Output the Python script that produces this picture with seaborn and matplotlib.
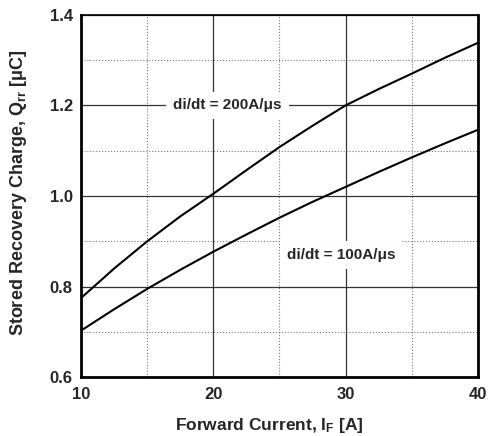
import numpy as np
import pandas as pd
import matplotlib
matplotlib.use("Agg")
import matplotlib.pyplot as plt
import seaborn as sns

# Дані
current = [10, 12.5, 15, 17.5, 20, 22.5, 25, 27.5, 30, 32.5, 35, 37.5, 40]
qrr_200 = [0.775, 0.840, 0.900, 0.955, 1.005, 1.057, 1.108, 1.155, 1.200, 1.236, 1.270, 1.305, 1.338]
qrr_100 = [0.703, 0.750, 0.795, 0.837, 0.877, 0.915, 0.952, 0.987, 1.020, 1.053, 1.085, 1.116, 1.146]
labels = ["di/dt = 200A/μs", "di/dt = 100A/μs"]

df = pd.DataFrame({
    "current": current * 2,
    "qrr": qrr_200 + qrr_100,
    "series": [labels[0]] * len(current) + [labels[1]] * len(current),
})

sns.set_style("white")
plt.rcParams["font.family"] = ["Liberation Sans", "DejaVu Sans"]
plt.rcParams["font.weight"] = "bold"
plt.rcParams["mathtext.fontset"] = "custom"
plt.rcParams["mathtext.rm"] = "Liberation Sans:bold"
plt.rcParams["mathtext.it"] = "Liberation Sans:bold"
plt.rcParams["mathtext.bf"] = "Liberation Sans:bold"

fig = plt.figure(figsize=(4.89, 4.36), dpi=100)
ax = fig.add_axes([0.166, 0.135, 0.811, 0.831])

sns.lineplot(data=df, x="current", y="qrr", hue="series",
             palette=["black", "black"], linewidth=1.5, legend=False, ax=ax)

ax.set_xlim(10, 40)
ax.set_ylim(0.6, 1.4)
ax.set_xticks([10, 20, 30, 40])
ax.set_yticks([0.6, 0.8, 1.0, 1.2, 1.4])
ax.set_xticks([15, 25, 35], minor=True)
ax.set_yticks([0.7, 0.9, 1.1, 1.3], minor=True)
ax.grid(which="major", color="#333333", linestyle="-", linewidth=0.9)
ax.grid(which="minor", color="#777777", linestyle=":", linewidth=0.8)
ax.tick_params(which="both", length=0, labelsize=12)
ax.tick_params(axis="x", pad=7)
ax.tick_params(axis="y", pad=6)

for lab in ax.get_xticklabels() + ax.get_yticklabels():
    lab.set_fontweight("bold")

for side in ["left", "bottom", "right"]:
    ax.spines[side].set_linewidth(2)
    ax.spines[side].set_color("black")
ax.spines["top"].set_linewidth(1.2)
ax.spines["top"].set_color("black")

ax.set_xlabel(r"Forward Current, I$_{\mathrm{F}}$ [A]", fontsize=12.5, fontweight="bold")
ax.set_ylabel(r"Stored Recovery Charge, Q$_{\mathrm{rr}}$ [μC]", fontsize=13, fontweight="bold")
ax.xaxis.set_label_coords(0.475, -0.108)
ax.yaxis.set_label_coords(-0.131, 0.51)

box = dict(facecolor="white", edgecolor="none", pad=5)
ax.text(21.07, 1.2, labels[0], ha="center", va="center", fontsize=11, fontweight="bold", bbox=box)
ax.text(29.65, 0.87, labels[1], ha="center", va="center", fontsize=11, fontweight="bold", bbox=box)

fig.savefig("out.png", dpi=100)
